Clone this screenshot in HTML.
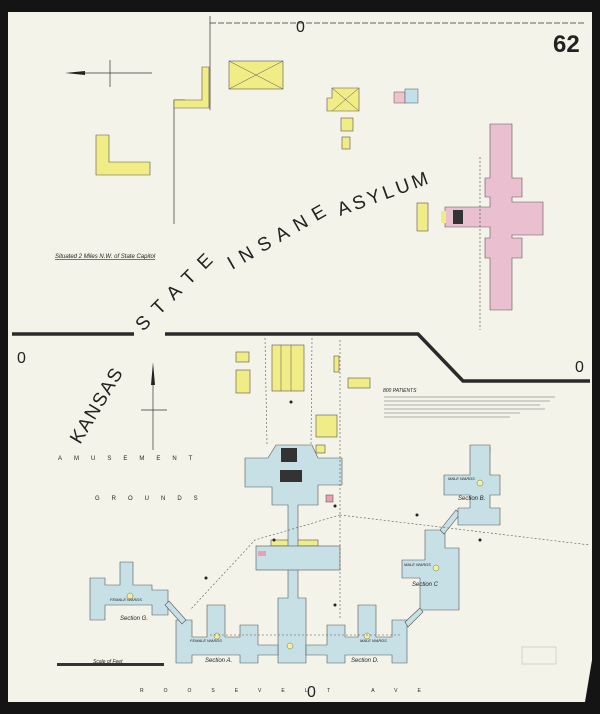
<!DOCTYPE html>
<html><head><meta charset="utf-8"><style>
html,body{margin:0;padding:0;background:#1a1a1a;}
svg{display:block}
text{font-family:"Liberation Sans",sans-serif;fill:#222}
</style></head><body>
<svg width="600" height="714" viewBox="0 0 600 714" xmlns="http://www.w3.org/2000/svg">
<rect width="600" height="714" fill="#141414"/>
<rect x="8" y="12" width="584" height="690" fill="#f4f3e9"/>
<polygon points="585,702 592,660 600,660 600,714 580,714" fill="#141414"/>
<g stroke="#333" fill="none" stroke-width="0.7">
<line x1="210" y1="16" x2="210" y2="110"/>
<line x1="174" y1="100" x2="174" y2="224"/>
<line x1="174" y1="100" x2="185" y2="100"/>
<line x1="210" y1="23" x2="585" y2="23" stroke-dasharray="6 2"/>
<line x1="70" y1="73" x2="152" y2="73"/><line x1="110" y1="60" x2="110" y2="87"/>
<line x1="153" y1="368" x2="153" y2="450"/><line x1="141" y1="410" x2="167" y2="410"/>
</g>
<polygon points="65,73 85,71 85,75" fill="#222"/>
<polygon points="153,362 151,385 155,385" fill="#222"/>
<g stroke="#2a2a2a" stroke-width="3.5" fill="none">
<line x1="12" y1="334" x2="134" y2="334"/>
<polyline points="165,334 418,334 463,381 590,381"/>
</g>
<g font-size="16"><text x="296" y="32">0</text><text x="17" y="363">0</text><text x="575" y="372">0</text><text x="307" y="697">0</text></g>
<text x="553" y="52" font-size="24" font-weight="bold">62</text>
<g font-size="19" fill="#333">
<text transform="translate(80,445) rotate(-59)" textLength="84" lengthAdjust="spacing">KANSAS</text>
<text transform="translate(143,332) rotate(-45)" textLength="100" lengthAdjust="spacing">STATE</text>
<text transform="translate(232,270) rotate(-30)" textLength="110" lengthAdjust="spacing">INSANE</text>
<text transform="translate(340,216) rotate(-20)" textLength="95" lengthAdjust="spacing">ASYLUM</text>
</g>
<text x="55" y="258" font-size="6" font-style="italic" text-decoration="underline">Situated 2 Miles N.W. of State Capitol</text>
<text x="58" y="460" font-size="6" letter-spacing="12">AMUSEMENT</text>
<text x="95" y="500" font-size="6" letter-spacing="12">GROUNDS</text>
<text x="140" y="692" font-size="5" letter-spacing="20">ROOSEVELT AVE</text>
<g fill="#f0ec86" stroke="#555" stroke-width="0.6">
<path d="M96 135H109V162H150V175H96Z"/>
<path d="M202 67H209V108H174V100H202Z"/>
<rect x="229" y="61" width="54" height="28"/>
<path d="M332 88H359V111H327V98H332Z"/>
<rect x="341" y="118" width="12" height="13"/><rect x="342" y="137" width="8" height="12"/>
<rect x="417" y="203" width="11" height="28"/>
<rect x="272" y="345" width="32" height="46"/>
<rect x="236" y="352" width="13" height="10"/><rect x="236" y="370" width="14" height="23"/>
<rect x="316" y="415" width="21" height="22"/><rect x="348" y="378" width="22" height="10"/>
<rect x="334" y="356" width="5" height="16"/><rect x="316" y="445" width="9" height="8"/>
<rect x="271" y="540" width="47" height="6"/><rect x="484" y="447" width="6" height="5"/>
</g>
<g stroke="#555" stroke-width="0.5"><line x1="229" y1="61" x2="283" y2="89"/><line x1="283" y1="61" x2="229" y2="89"/><line x1="332" y1="88" x2="359" y2="111"/><line x1="359" y1="88" x2="332" y2="111"/>
<line x1="281" y1="345" x2="281" y2="391"/><line x1="291" y1="345" x2="291" y2="391"/></g>
<rect x="394" y="92" width="11" height="11" fill="#eec4cc" stroke="#555" stroke-width="0.5"/>
<rect x="405" y="89" width="13" height="14" fill="#bfe0ec" stroke="#555" stroke-width="0.5"/>
<g fill="#eac0d0" stroke="#555" stroke-width="0.6">
<path d="M490 124H512V178H522V197H512V202H543V235H512V238H522V258H512V310H490V258H485V238H490V227H445V207H490V197H485V178H490Z"/>
</g>
<rect x="453" y="210" width="10" height="14" fill="#333"/><rect x="441" y="211" width="5" height="12" fill="#f0ec86"/>
<line x1="480" y1="157" x2="480" y2="330" stroke="#444" stroke-width="0.6" stroke-dasharray="2 2"/>
<g fill="#c6e0e6" stroke="#555" stroke-width="0.6">
<path d="M268 458L276 445H312L318 458H342V485H318V505H298V598H306V663H278V598H288V505H272V487H245V458Z"/>
<rect x="256" y="546" width="84" height="24"/>
<path d="M176 620H192V637H207V605H225V637H240V625H258V645H278V655H258V663H240V655H192V663H176Z"/>
<path d="M306 645H327V625H345V637H358V605H376V637H392V620H407V663H392V655H345V663H327V655H306Z"/>
<path d="M90 578H105V585H120V562H133V585H152V590H168V615H152V605H105V620H90Z"/>
<path d="M165 605L182 624L186 620L169 601Z"/>
<path d="M425 530H445V548H459V610H420V578H402V560H425Z"/>
<path d="M405 622L420 608L423 612L408 627Z"/>
<path d="M440 530L456 510L460 514L444 534Z"/>
<path d="M470 445H490V475H500V495H490V508H500V525H458V508H470V495H444V475H470Z"/>
</g>
<g fill="#333"><rect x="281" y="448" width="16" height="14"/><rect x="280" y="470" width="22" height="12"/></g>
<rect x="326" y="495" width="7" height="7" fill="#e9a0b0" stroke="#444" stroke-width="0.5"/>
<rect x="258" y="551" width="8" height="5" fill="#e9a0b0"/>
<g fill="#f3f09a" stroke="#555" stroke-width="0.4"><circle cx="130" cy="596" r="3"/><circle cx="217" cy="636" r="3"/><circle cx="290" cy="646" r="3"/><circle cx="367" cy="636" r="3"/><circle cx="436" cy="568" r="3"/><circle cx="480" cy="483" r="3"/></g>
<g stroke="#555" stroke-width="0.6" fill="none" stroke-dasharray="2 2">
<line x1="340" y1="340" x2="340" y2="620"/>
<line x1="265" y1="338" x2="267" y2="445"/><line x1="312" y1="338" x2="311" y2="445"/>
<polyline points="340,515 255,540 190,610"/>
<line x1="340" y1="515" x2="590" y2="545"/>
<line x1="210" y1="635" x2="400" y2="635"/>
</g>
<g fill="#222"><circle cx="274" cy="540" r="1.5"/><circle cx="206" cy="578" r="1.5"/><circle cx="335" cy="506" r="1.5"/><circle cx="335" cy="605" r="1.5"/><circle cx="417" cy="515" r="1.5"/><circle cx="480" cy="540" r="1.5"/><circle cx="291" cy="402" r="1.5"/></g>
<g font-size="6" font-style="italic" fill="#333">
<text x="120" y="620">Section G.</text><text x="205" y="662">Section A.</text><text x="351" y="662">Section D.</text>
<text x="412" y="586">Section C</text><text x="458" y="500">Section B.</text>
<text x="110" y="601" font-size="4">FEMALE WARDS</text><text x="190" y="642" font-size="4">FEMALE WARDS</text>
<text x="360" y="642" font-size="4">MALE WARDS</text><text x="404" y="566" font-size="4">MALE WARDS</text><text x="448" y="480" font-size="4">MALE WARDS</text>
<text x="93" y="663" font-size="5">Scale of Feet</text>
<text x="383" y="392" font-size="5">800 PATIENTS</text>
</g>
<g stroke="#666" stroke-width="0.6"><line x1="384" y1="397" x2="555" y2="397"/><line x1="384" y1="401" x2="550" y2="401"/><line x1="384" y1="405" x2="540" y2="405"/><line x1="384" y1="409" x2="545" y2="409"/><line x1="384" y1="413" x2="520" y2="413"/><line x1="384" y1="417" x2="510" y2="417"/></g>
<rect x="57" y="663" width="107" height="3" fill="#333"/>
<rect x="522" y="647" width="34" height="17" fill="none" stroke="#bbb" stroke-width="0.6"/>
</svg>
</body></html>
